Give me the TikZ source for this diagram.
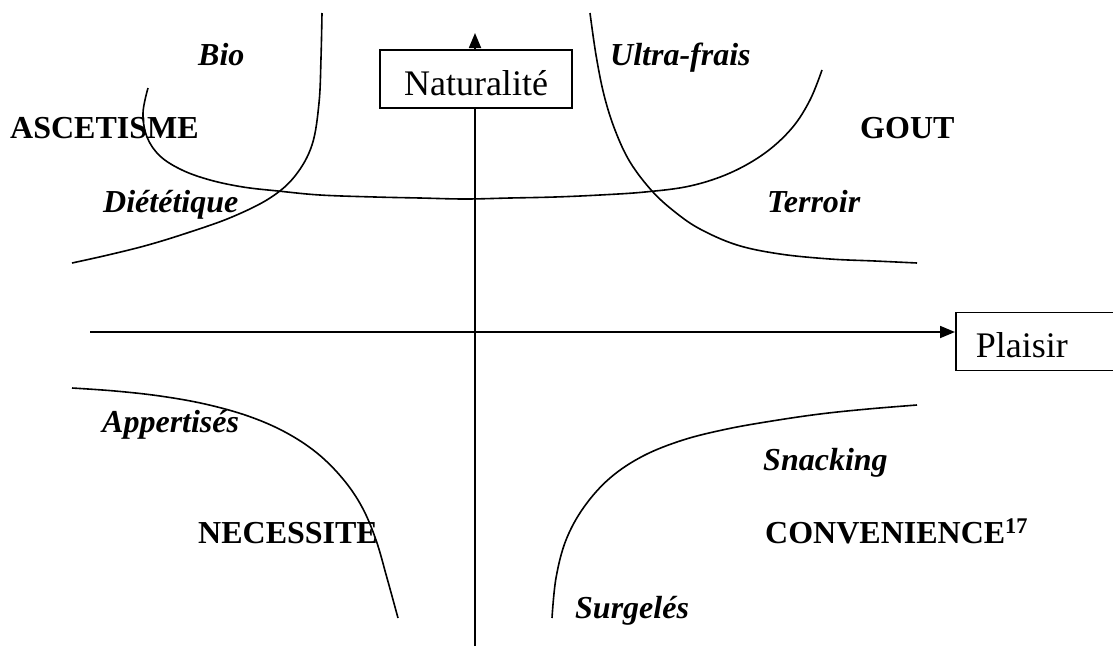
\documentclass[tikz,border=0pt]{standalone}
\usepackage{fontspec}
\setmainfont{Liberation Serif}
\usetikzlibrary{arrows.meta}
\begin{document}
\begin{tikzpicture}[>={Triangle[length=15pt,width=12pt]},x=1pt,y=-1pt,
		axe/.style={line width=1.8pt},
		courbe/.style={line width=1.6pt},
		cadre/.style={draw,line width=1.8pt,fill=white,inner sep=0pt,minimum height=58pt,text height=32pt,text depth=0pt,font=\fontsize{36}{40}\selectfont},
		pole/.style={anchor=base west,inner sep=0pt,font=\fontsize{32}{36}\selectfont\bfseries},
		produit/.style={pole,font=\fontsize{32}{36}\selectfont\bfseries\itshape}]
		\clip (0,0) rectangle (1113,646);
		\coordinate (yb) at (475,646);
		\coordinate (yh) at (475,33);
		\coordinate (xg) at (90,332);
		\draw[axe,->] (yb) -- (yh);
		\node[cadre,minimum width=192pt] (nat) at (476,79) {Naturalité};
		\node[cadre,anchor=west,text width=160pt,align=left,inner xsep=20pt] (plaisir) at (955,341.5) {Plaisir};
		\draw[axe,->] (xg) -- (xg -| plaisir.west);
		\draw[courbe] plot[smooth,tension=.6] coordinates{(322,13) (321,58) (319,103) (312,145) (295,176) (270,198) (232,217) (190,232) (148,245) (108,255) (72,263)};
		\draw[courbe] plot[smooth,tension=.6] coordinates{(148,88) (143,113) (147,137) (160,156) (182,170) (210,180) (243,187) (278,191) (320,195) (375,197) (420,198) (465,199) (510,198) (555,197) (600,195) (645,192) (690,186) (730,173) (765,153) (792,128) (810,100) (822,70)};
		\draw[courbe] plot[smooth,tension=.6] coordinates{(590,13) (596,55) (604,95) (615,130) (630,162) (652,191) (675,212) (700,229) (737,245) (780,254) (830,259) (875,261) (917,263)};
		\draw[courbe] plot[smooth,tension=.6] coordinates{(72,388) (115,391) (160,396) (205,404) (248,416) (285,432) (317,453) (343,479) (362,507) (376,540) (387,578) (398,618)};
		\draw[courbe] plot[smooth,tension=.6] coordinates{(552,618) (556,578) (566,540) (584,507) (610,478) (643,456) (683,440) (727,429) (772,421) (820,414) (868,409) (917,405)};
		\node[pole] (ascetisme) at (10,138) {ASCETISME};
		\node[pole] (gout) at (860,138) {GOUT};
		\node[pole] (necessite) at (198,543) {NECESSITE};
		\node[pole] (convenience) at (765,543) {CONVENIENCE\textsuperscript{17}};
		\node[produit] (bio) at (198,65) {Bio};
		\node[produit] (dietetique) at (103,212) {Diététique};
		\node[produit] (ultrafrais) at (610,65) {Ultra-frais};
		\node[produit] (terroir) at (767,212) {Terroir};
		\node[produit] (appertises) at (102,432) {Appertisés};
		\node[produit] (snacking) at (763,470) {Snacking};
		\node[produit] (surgeles) at (575,618) {Surgelés};
\end{tikzpicture}
\end{document}
